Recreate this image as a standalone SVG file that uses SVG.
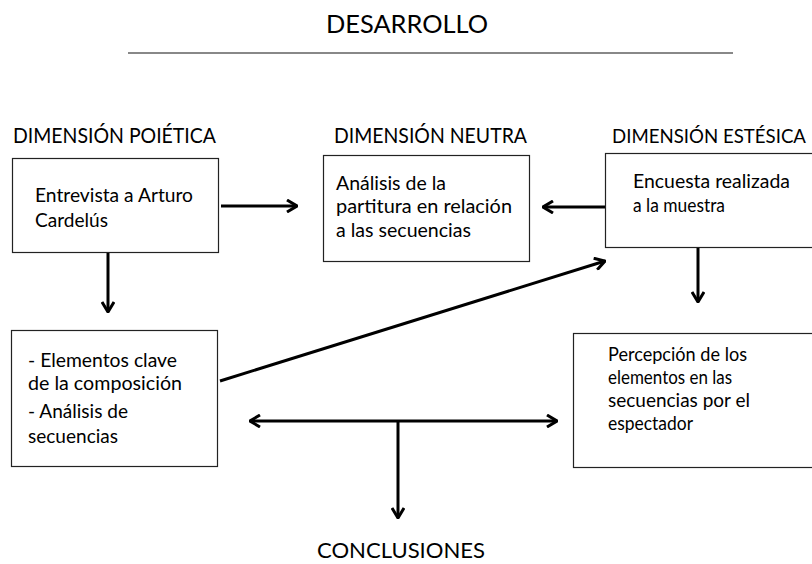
<svg xmlns="http://www.w3.org/2000/svg" width="812" height="564" viewBox="0 0 812 564">
<style>
.t{font-family:Lato,"Open Sans","Liberation Sans",sans-serif;fill:#000;}
.b{font-size:19.5px;}
.h{font-size:20.5px;}
.box{fill:#fff;stroke:#222;stroke-width:1.2;}
.c{fill:none;stroke:#000;stroke-width:3;}
</style>
<defs>
<marker id="ah" viewBox="0 0 12 14" refX="11" refY="7" markerWidth="12" markerHeight="14" markerUnits="userSpaceOnUse" orient="auto-start-reverse">
<path d="M1,1 L11,7 L1,13" fill="none" stroke="#000" stroke-width="3"/>
</marker>
</defs>
<rect width="812" height="564" fill="#fff"/>
<g id="title">
<text class="t" x="326" y="33" font-size="25.5" textLength="162" lengthAdjust="spacingAndGlyphs">DESARROLLO</text>
<line x1="128" y1="53" x2="733" y2="53" stroke="#888" stroke-width="2"/>
</g>
<g id="headers">
<text class="t h" x="13" y="143" textLength="203" lengthAdjust="spacingAndGlyphs">DIMENSIÓN POIÉTICA</text>
<text class="t h" x="334" y="143" textLength="193" lengthAdjust="spacingAndGlyphs">DIMENSIÓN NEUTRA</text>
<text class="t" x="612" y="143" font-size="18.6" textLength="194" lengthAdjust="spacingAndGlyphs">DIMENSIÓN ESTÉSICA</text>
</g>
<g id="node-entrevista">
<rect class="box" x="12.5" y="158.5" width="206" height="94"/>
<text class="t b" x="35" y="202" textLength="158" lengthAdjust="spacingAndGlyphs">Entrevista a Arturo</text>
<text class="t b" x="35" y="227" textLength="73" lengthAdjust="spacingAndGlyphs">Cardelús</text>
</g>
<g id="node-partitura">
<rect class="box" x="323.5" y="155.5" width="206" height="106"/>
<text class="t b" x="336" y="190" textLength="110" lengthAdjust="spacingAndGlyphs">Análisis de la</text>
<text class="t b" x="336" y="213" textLength="176" lengthAdjust="spacingAndGlyphs">partitura en relación</text>
<text class="t b" x="336" y="237" textLength="135" lengthAdjust="spacingAndGlyphs">a las secuencias</text>
</g>
<g id="node-encuesta">
<rect class="box" x="605.5" y="153.5" width="220" height="94"/>
<text class="t b" x="633" y="188" textLength="157" lengthAdjust="spacingAndGlyphs">Encuesta realizada</text>
<text class="t b" x="633" y="212" textLength="92" lengthAdjust="spacingAndGlyphs">a la muestra</text>
</g>
<g id="node-elementos">
<rect class="box" x="11.5" y="330.5" width="206" height="136"/>
<text class="t b" x="28" y="367" textLength="149" lengthAdjust="spacingAndGlyphs">- Elementos clave</text>
<text class="t b" x="28" y="390" textLength="154" lengthAdjust="spacingAndGlyphs">de la composición</text>
<text class="t b" x="28" y="418" textLength="100" lengthAdjust="spacingAndGlyphs">- Análisis de</text>
<text class="t b" x="28" y="443" textLength="90" lengthAdjust="spacingAndGlyphs">secuencias</text>
</g>
<g id="node-percepcion">
<rect class="box" x="573.5" y="333.5" width="250" height="134"/>
<text class="t b" x="608" y="361" textLength="139" lengthAdjust="spacingAndGlyphs">Percepción de los</text>
<text class="t b" x="608" y="384" textLength="124" lengthAdjust="spacingAndGlyphs">elementos en las</text>
<text class="t b" x="608" y="407" textLength="142" lengthAdjust="spacingAndGlyphs">secuencias por el</text>
<text class="t b" x="608" y="430" textLength="85" lengthAdjust="spacingAndGlyphs">espectador</text>
</g>
<g id="node-conclusiones">
<text class="t" x="317" y="558" font-size="21.5" textLength="168" lengthAdjust="spacingAndGlyphs">CONCLUSIONES</text>
</g>
<g id="connectors">
<line class="c" x1="221" y1="206" x2="297" y2="206" marker-end="url(#ah)"/>
<line class="c" x1="605" y1="207" x2="543" y2="207" marker-end="url(#ah)"/>
<line class="c" x1="108" y1="253" x2="108" y2="312" marker-end="url(#ah)"/>
<line class="c" x1="698" y1="248" x2="698" y2="302" marker-end="url(#ah)"/>
<line class="c" x1="220" y1="381" x2="605" y2="261" marker-end="url(#ah)"/>
<line class="c" x1="250" y1="421" x2="557" y2="421" marker-start="url(#ah)" marker-end="url(#ah)"/>
<line class="c" x1="398" y1="421" x2="398" y2="518" marker-end="url(#ah)"/>
</g>
</svg>
